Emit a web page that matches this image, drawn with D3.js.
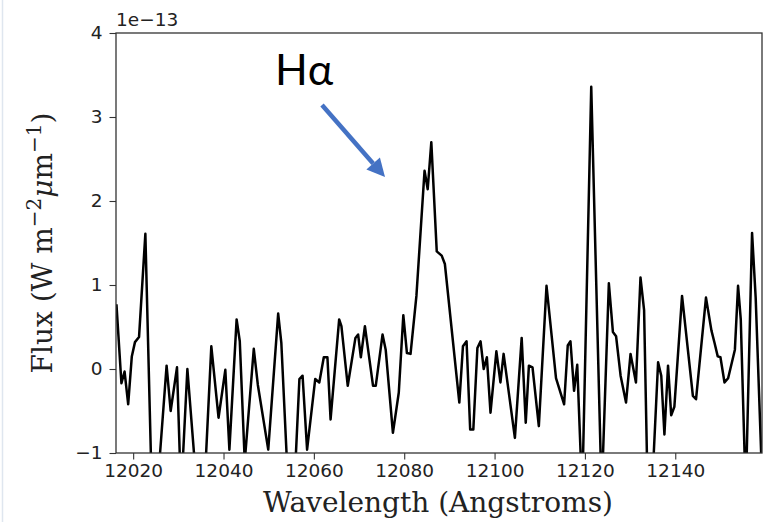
<!DOCTYPE html>
<html>
<head>
<meta charset="utf-8">
<script src="https://cdnjs.cloudflare.com/ajax/libs/d3/7.8.5/d3.min.js"></script>
<style>
  html, body { margin: 0; padding: 0; background: #ffffff; }
  svg { display: block; }
</style>
</head>
<body>
<svg id="chart" width="763" height="522"></svg>
<script>
// Wavelength (Angstroms) of each sample of the spectrum
const wavelength = [
  12016.3, 12017.4, 12018.1, 12018.9, 12019.7, 12020.4, 12021.3, 12022.7, 12024.1, 12025.4,
  12027.4, 12028.3, 12029.7, 12030.6, 12032.0, 12033.9, 12035.7, 12037.3, 12038.9, 12040.4,
  12041.3, 12042.9, 12043.6, 12044.7, 12046.7, 12047.6, 12049.9, 12052.1, 12052.8, 12054.3,
  12055.6, 12056.8, 12057.5, 12058.5, 12060.3, 12061.2, 12062.2, 12063.0, 12063.7, 12065.6,
  12066.1, 12067.5, 12069.2, 12069.8, 12070.4, 12071.3, 12073.1, 12073.7, 12075.2, 12075.9,
  12077.5, 12078.8, 12079.8, 12080.6, 12081.4, 12082.7, 12084.5, 12085.2, 12086.0, 12087.2,
  12088.3, 12089.0, 12092.2, 12093.0, 12093.8, 12094.6, 12095.3, 12096.2, 12096.9, 12097.6,
  12098.3, 12099.1, 12100.4, 12101.3, 12102.0, 12104.5, 12106.0, 12106.9, 12107.6, 12108.4,
  12109.8, 12111.5, 12113.6, 12115.4, 12116.2, 12116.8, 12117.6, 12118.3, 12119.4, 12121.4,
  12123.7, 12125.3, 12126.2, 12126.9, 12127.9, 12129.1, 12130.1, 12131.3, 12132.3, 12133.1,
  12133.9, 12134.8, 12136.2, 12136.9, 12137.6, 12138.4, 12139.1, 12139.8, 12141.5, 12143.9,
  12144.6, 12146.8, 12148.0, 12148.7, 12149.4, 12150.0, 12150.9, 12151.7, 12153.2, 12153.9,
  12154.5, 12155.6, 12157.0, 12157.8, 12159.6
];
// Flux in units of 1e-13 W m^-2 um^-1
const flux = [
  0.77, -0.17, -0.03, -0.42, 0.15, 0.32, 0.38, 1.61, -1.40, -1.40,
  0.04, -0.50, 0.02, -1.50, 0.00, -1.30, -1.50, 0.27, -0.58, -0.01,
  -0.96, 0.59, 0.33, -1.10, 0.24, -0.19, -0.96, 0.66, 0.31, -1.40,
  -1.50, -0.12, -0.08, -0.96, -0.12, -0.16, 0.14, 0.14, -0.60, 0.59,
  0.51, -0.20, 0.37, 0.41, 0.14, 0.51, -0.20, -0.20, 0.41, 0.23,
  -0.76, -0.28, 0.64, 0.19, 0.18, 0.87, 2.36, 2.14, 2.70, 1.40,
  1.35, 1.25, -0.40, 0.27, 0.33, -0.72, -0.72, 0.25, 0.33, 0.00,
  0.14, -0.52, 0.21, -0.16, 0.18, -0.82, 0.37, -0.64, 0.04, 0.02,
  -0.68, 0.99, -0.11, -0.42, 0.28, 0.33, -0.26, 0.05, -1.50, 3.36,
  -1.50, 1.02, 0.44, 0.39, -0.08, -0.40, 0.18, -0.16, 1.09, 0.70,
  -1.50, -1.50, 0.08, -0.08, -0.78, 0.04, -0.55, -0.45, 0.87, -0.32,
  -0.36, 0.85, 0.46, 0.31, 0.15, 0.14, -0.16, -0.11, 0.23, 0.99,
  0.59, -1.50, 1.62, 0.85, -1.90
];
const xTicks = [12020, 12040, 12060, 12080, 12100, 12120, 12140];
const yTicks = [-1, 0, 1, 2, 3, 4];
const xDomain = [12016.2, 12159.2];
const yDomain = [-1, 4];

const svg = d3.select("#chart");
const margin = { left: 116, right: 1, top: 33, bottom: 69 };
const W = 763, H = 522;
const x = d3.scaleLinear().domain(xDomain).range([margin.left, W - margin.right]);
const y = d3.scaleLinear().domain(yDomain).range([H - margin.bottom, margin.top]);

// faint screenshot border on the left
svg.append("line").attr("x1", 2.5).attr("x2", 2.5).attr("y1", 0).attr("y2", H)
  .attr("stroke", "#dfe6ef").attr("stroke-width", 1.5);

svg.append("clipPath").attr("id", "clip").append("rect")
  .attr("x", x(xDomain[0])).attr("y", y(yDomain[1]))
  .attr("width", x(xDomain[1]) - x(xDomain[0])).attr("height", y(yDomain[0]) - y(yDomain[1]));

const data = wavelength.map((w, i) => ({ w, f: flux[i] }));
svg.append("path").datum(data)
  .attr("clip-path", "url(#clip)")
  .attr("fill", "none").attr("stroke", "#000").attr("stroke-width", 2.5)
  .attr("stroke-linejoin", "round")
  .attr("d", d3.line().x(d => x(d.w)).y(d => y(d.f)));

const fmt = v => (v < 0 ? "\u2212" + Math.abs(v) : String(v));

const xAxis = svg.append("g").attr("transform", `translate(0,${y(yDomain[0])})`)
  .call(d3.axisBottom(x).tickValues(xTicks).tickFormat(d => String(d)).tickSize(6.5).tickPadding(4));
const yAxis = svg.append("g").attr("transform", `translate(${x(xDomain[0])},0)`)
  .call(d3.axisLeft(y).tickValues(yTicks).tickFormat(fmt).tickSize(6.5).tickPadding(7));
[xAxis, yAxis].forEach(g => {
  g.select(".domain").remove();
  g.selectAll("line").attr("stroke", "#333").attr("stroke-width", 1.1);
  g.selectAll("text").attr("font-family", "DejaVu Sans").attr("font-size", 18.5).attr("fill", "#222");
});

// frame
svg.append("rect")
  .attr("x", x(xDomain[0])).attr("y", y(yDomain[1]))
  .attr("width", x(xDomain[1]) - x(xDomain[0])).attr("height", y(yDomain[0]) - y(yDomain[1]))
  .attr("fill", "none").attr("stroke", "#333").attr("stroke-width", 1.3);

// offset text
svg.append("text").attr("x", x(xDomain[0])).attr("y", 26)
  .attr("font-family", "DejaVu Sans").attr("font-size", 18.5).attr("fill", "#222")
  .text("1e\u221213");

// axis labels
svg.append("text").attr("x", 438).attr("y", 512).attr("text-anchor", "middle")
  .attr("font-family", "DejaVu Serif").attr("font-size", 28).attr("fill", "#222")
  .text("Wavelength (Angstroms)");

const yl = svg.append("text")
  .attr("transform", `translate(52,${(y(yDomain[0]) + y(yDomain[1])) / 2}) rotate(-90)`)
  .attr("text-anchor", "middle")
  .attr("font-family", "DejaVu Serif").attr("font-size", 28).attr("fill", "#222");
yl.append("tspan").text("Flux (W m");
yl.append("tspan").attr("font-size", 20).attr("dy", -11).text("\u22122");
yl.append("tspan").attr("dy", 11).attr("font-style", "italic").text("\u03bc");
yl.append("tspan").text("m");
yl.append("tspan").attr("font-size", 20).attr("dy", -11).text("\u22121");
yl.append("tspan").attr("dy", 11).text(")");

// H-alpha annotation
svg.append("text").attr("x", 275).attr("y", 85)
  .attr("font-family", "Lato").attr("font-size", 43).attr("fill", "#000")
  .text("H\u03b1");

const ax0 = 322, ay0 = 105, ax1 = 385, ay1 = 177;
const ang = Math.atan2(ay1 - ay0, ax1 - ax0);
const headLen = 18, headW = 9;
const bx = ax1 - headLen * Math.cos(ang), by = ay1 - headLen * Math.sin(ang);
svg.append("line").attr("x1", ax0).attr("y1", ay0).attr("x2", bx).attr("y2", by)
  .attr("stroke", "#4472c4").attr("stroke-width", 4.5);
svg.append("path")
  .attr("d", `M${ax1},${ay1} L${bx + headW * Math.sin(ang)},${by - headW * Math.cos(ang)} L${bx - headW * Math.sin(ang)},${by + headW * Math.cos(ang)} Z`)
  .attr("fill", "#4472c4");
</script>
</body>
</html>
